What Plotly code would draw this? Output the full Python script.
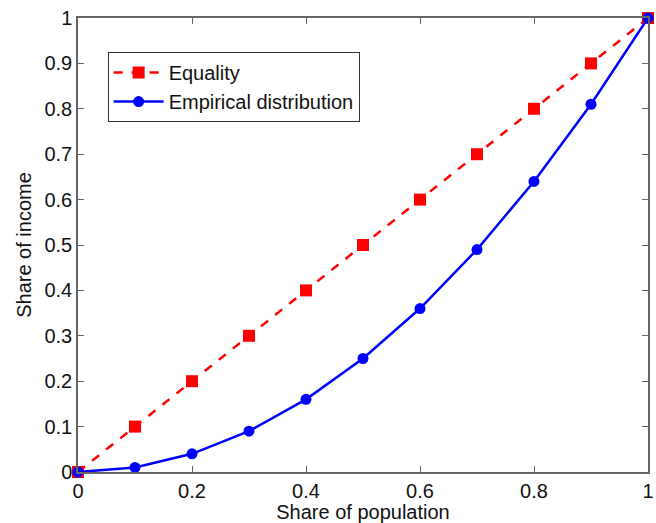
import plotly.graph_objects as go

population_share = [0, 0.1, 0.2, 0.3, 0.4, 0.5, 0.6, 0.7, 0.8, 0.9, 1.0]
equality_share = [0, 0.1, 0.2, 0.3, 0.4, 0.5, 0.6, 0.7, 0.8, 0.9, 1.0]
empirical_share = [0, 0.01, 0.04, 0.09, 0.16, 0.25, 0.36, 0.49, 0.64, 0.81, 1.0]
x_ticks = [0, 0.2, 0.4, 0.6, 0.8, 1]
x_tick_labels = ["0", "0.2", "0.4", "0.6", "0.8", "1"]
y_ticks = [0, 0.1, 0.2, 0.3, 0.4, 0.5, 0.6, 0.7, 0.8, 0.9, 1]
y_tick_labels = ["0", "0.1", "0.2", "0.3", "0.4", "0.5", "0.6", "0.7", "0.8", "0.9", "1"]

fig = go.Figure()
fig.add_trace(go.Scatter(
    x=population_share, y=equality_share, mode="lines+markers", name="Equality",
    line=dict(color="#ff0000", width=2.5, dash="dash"),
    marker=dict(symbol="square", size=12, color="#ff0000"),
    cliponaxis=False,
))
fig.add_trace(go.Scatter(
    x=population_share, y=empirical_share, mode="lines+markers", name="Empirical distribution",
    line=dict(color="#0000ff", width=2.5),
    marker=dict(symbol="circle", size=11, color="#0000ff"),
    cliponaxis=False,
))

axis_common = dict(
    showgrid=False, zeroline=False, showline=True, linecolor="#666666", linewidth=1.5,
    mirror="ticks", ticks="inside", ticklen=6, tickcolor="#666666", tickwidth=1,
    tickfont=dict(family="Liberation Sans, Arial", size=20, color="#111111"),
    ticklabeloverflow="allow", automargin=False,
)

fig.update_layout(
    width=656, height=523,
    margin=dict(l=78, r=8, t=18, b=51),
    paper_bgcolor="white", plot_bgcolor="white",
    font=dict(family="Liberation Sans, Arial", color="#111111"),
    xaxis=dict(range=[0, 1], tickvals=x_ticks, ticktext=x_tick_labels,
               title=dict(text="Share of population", font=dict(size=20), standoff=0),
               **axis_common),
    yaxis=dict(range=[0, 1], tickvals=y_ticks, ticktext=y_tick_labels,
               title=dict(text="Share of income", font=dict(size=20), standoff=7),
               **axis_common),
    legend=dict(x=0.052, y=0.925, xanchor="left", yanchor="top",
                bgcolor="white", bordercolor="#333333", borderwidth=1,
                font=dict(size=20, color="#111111"), itemwidth=50,
                tracegroupgap=0),
    showlegend=True,
)

fig.write_html("out.html")
